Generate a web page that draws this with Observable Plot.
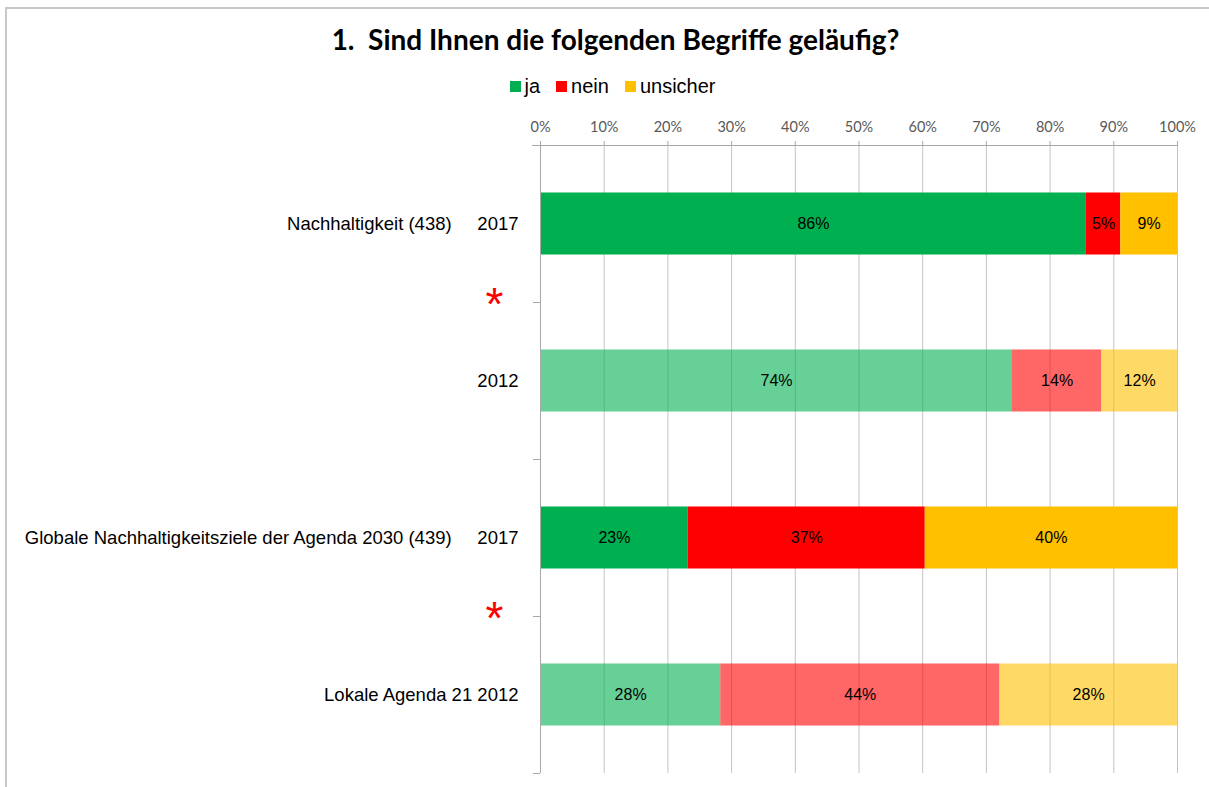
<!DOCTYPE html>
<html>
<head>
<meta charset="utf-8">
<script src="https://cdn.jsdelivr.net/npm/d3@7"></script>
<script src="https://cdn.jsdelivr.net/npm/@observablehq/plot@0.6"></script>
<style>
  html, body { margin: 0; padding: 0; background: #fff; }
  #wrap { position: relative; width: 1209px; height: 787px; overflow: hidden; }
  #frame { position: absolute; left: 5px; top: 7px; width: 1300px; height: 900px; border: 2px solid #c8c8c8; box-sizing: border-box; }
  #title { position: absolute; top: 22px; left: 11px; width: 1209px; text-align: center;
           font-family: Lato, "Open Sans", sans-serif; font-weight: bold; font-size: 28px; color: #000; white-space: pre; }
  #legend { position: absolute; top: 75px; left: 8px; width: 1209px; display: flex; justify-content: center; gap: 16px;
            font-family: "Liberation Sans Narrow", "Arial Narrow", "Liberation Sans", sans-serif; font-size: 20px; color: #000; }
  #legend span { display: inline-flex; align-items: center; gap: 4px; }
  #legend i { display: inline-block; width: 11px; height: 11px; }
  #chart { position: absolute; top: 100px; left: 0; }
  #chart svg { overflow: visible; }
</style>
</head>
<body>
<div id="wrap">
  <div id="frame"></div>
  <div id="title">1.  Sind Ihnen die folgenden Begriffe geläufig?</div>
  <div id="legend"></div>
  <div id="chart"></div>
</div>
<script>
// ---- data ----
const rowLabels = [
  "Nachhaltigkeit (438)\u00A0\u00A0\u00A0\u00A0 2017",
  "2012",
  "Globale Nachhaltigkeitsziele der Agenda 2030 (439)\u00A0\u00A0\u00A0\u00A0 2017",
  "Lokale Agenda 21 2012"
];
const rowYears = ["2017", "2012", "2017", "2012"];
const seriesNames = ["ja", "nein", "unsicher"];
const seriesColors = ["#00B050", "#FF0000", "#FFC000"];
const ja = [85.7, 74.1, 23.2, 28.3];
const nein = [5.4, 14.0, 37.2, 43.8];
const unsicher = [8.9, 11.9, 39.6, 27.9];
const xTicks = [0, 10, 20, 30, 40, 50, 60, 70, 80, 90, 100];
const significant = [1, 3]; // boundaries where a red asterisk is shown

// ---- build table ----
const seriesValues = [ja, nein, unsicher];
const segments = [];
rowLabels.forEach((lab, i) => {
  let acc = 0;
  seriesValues.forEach((vals, s) => {
    const v = vals[i];
    segments.push({row: i, year: rowYears[i], series: seriesNames[s], value: v, x1: acc, x2: acc + v});
    acc += v;
  });
});
const rows = rowLabels.map((label, i) => ({row: i, label}));
const boundaries = d3.range(rowLabels.length + 1);
const half = 0.1975; // half bar thickness in row units

// legend
const legend = document.getElementById("legend");
seriesNames.forEach((n, i) => {
  const s = document.createElement("span");
  s.innerHTML = `<i style="background:${seriesColors[i]}"></i>${n}`;
  legend.appendChild(s);
});

const narrow = "'Liberation Sans Narrow', 'Arial Narrow', 'Liberation Sans', sans-serif";

const chart = Plot.plot({
  width: 1209,
  height: 687,
  marginLeft: 540,
  marginRight: 32,
  marginTop: 45,
  marginBottom: 14,
  style: {fontFamily: narrow, background: "transparent"},
  x: {domain: [0, 100]},
  y: {domain: [0, rowLabels.length], reverse: true, axis: null},
  color: {domain: seriesNames, range: seriesColors},
  marks: [
    // vertical gridlines
    Plot.ruleX(xTicks, {y1: 0, y2: rowLabels.length, stroke: "#c4c4c4", strokeWidth: 1}),
    // top axis line
    Plot.ruleY([0], {x1: -1.25, x2: 100, stroke: "#a8a8a8"}),
    // left tick marks at category boundaries
    Plot.ruleY(boundaries, {x1: -1.1, x2: 0, stroke: "#a8a8a8"}),
    // top axis
    Plot.axisX(xTicks, {anchor: "top", tickSize: 5, tickPadding: 9, tickFormat: d => d + "%",
      stroke: "#a8a8a8", fill: "#595959", fontSize: 14.5, fontFamily: "Lato, 'Open Sans', sans-serif", label: null}),
    // bars
    Plot.rectX(segments, {
      x1: "x1", x2: "x2",
      y1: d => d.row + 0.5 - half, y2: d => d.row + 0.5 + half,
      fill: "series",
      fillOpacity: d => d.year === "2012" ? 0.6 : 1
    }),
    // left axis line
    Plot.ruleX([0], {y1: 0, y2: rowLabels.length, stroke: "#a8a8a8"}),
    // value labels
    Plot.text(segments, {
      x: d => (d.x1 + d.x2) / 2, y: d => d.row + 0.5,
      text: d => Math.round(d.value) + "%",
      fill: "#000", fontSize: 16
    }),
    // row labels
    Plot.text(rows, {x: 0, y: d => d.row + 0.5, text: "label", textAnchor: "end", dx: -22, fontSize: 18.5, fill: "#000"}),
    // significance asterisks
    Plot.text(significant, {x: 0, y: d => d, text: () => "*", dx: -46, dy: 3, fontSize: 46, fill: "#FF0000", fontFamily: "'Liberation Sans', sans-serif"})
  ]
});
document.getElementById("chart").appendChild(chart);
</script>
</body>
</html>
